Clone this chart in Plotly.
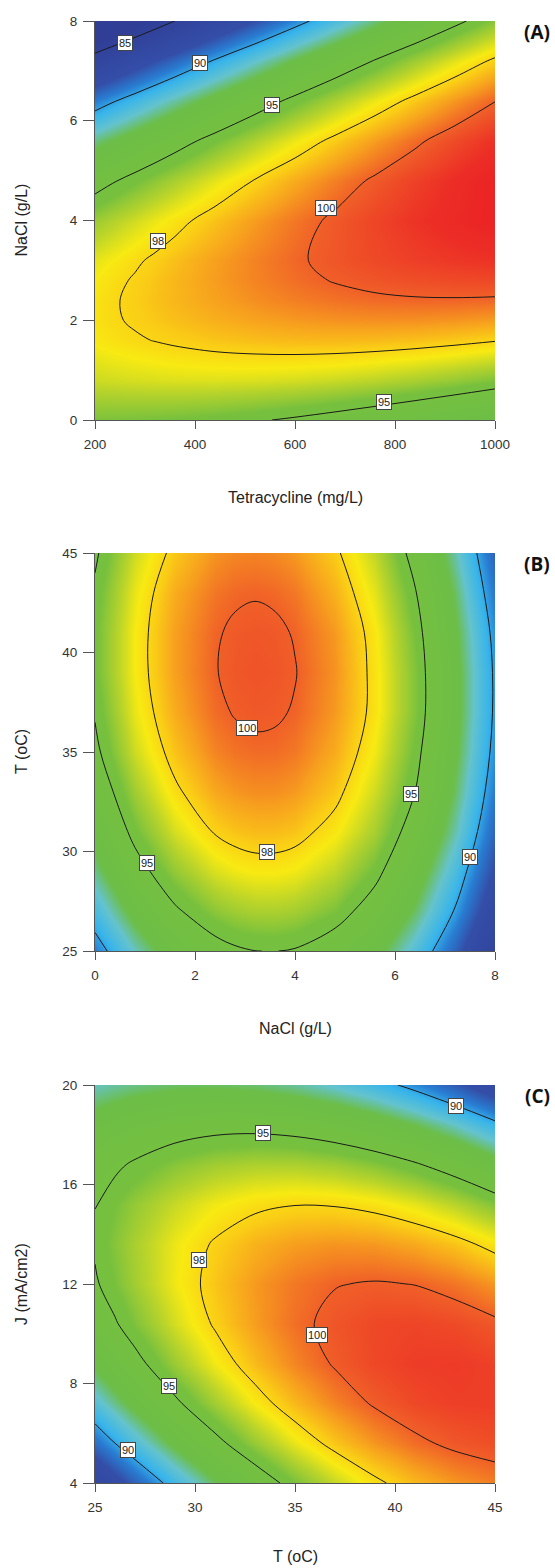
import plotly.graph_objects as go

# ---------------- data ----------------
# Panel A: removal (%) over Tetracycline (mg/L) x NaCl (g/L)
tetra_x = [200, 240, 280, 320, 360, 440, 520, 600, 680, 760, 840, 920, 1000]
nacl_y = [0, 0.8, 1.6, 2.0, 2.4, 2.8, 3.2, 4.0, 4.8, 5.6, 6.4, 7.2, 8.0]
z_A = [
    [95.58, 95.57, 95.55, 95.51, 95.46, 95.32, 95.11, 94.85, 94.53, 94.15, 93.71, 93.21, 92.66],
    [96.88, 96.96, 97.02, 97.07, 97.11, 97.13, 97.09, 97.00, 96.85, 96.64, 96.37, 96.05, 95.66],
    [97.59, 97.75, 97.90, 98.03, 98.15, 98.35, 98.48, 98.56, 98.58, 98.54, 98.44, 98.28, 98.07],
    [97.72, 97.92, 98.11, 98.29, 98.45, 98.73, 98.95, 99.11, 99.22, 99.26, 99.25, 99.18, 99.05],
    [97.70, 97.94, 98.18, 98.40, 98.60, 98.96, 99.27, 99.52, 99.71, 99.84, 99.91, 99.92, 99.88],
    [97.53, 97.82, 98.09, 98.35, 98.60, 99.05, 99.44, 99.77, 100.05, 100.26, 100.42, 100.52, 100.56],
    [97.21, 97.54, 97.86, 98.16, 98.45, 98.99, 99.46, 99.88, 100.24, 100.54, 100.78, 100.97, 101.09],
    [96.12, 96.54, 96.94, 97.33, 97.70, 98.41, 99.06, 99.64, 100.17, 100.64, 101.06, 101.41, 101.71],
    [94.43, 94.94, 95.43, 95.90, 96.36, 97.24, 98.05, 98.81, 99.51, 100.15, 100.73, 101.26, 101.72],
    [92.15, 92.74, 93.31, 93.87, 94.42, 95.46, 96.45, 97.38, 98.25, 99.06, 99.81, 100.51, 101.14],
    [89.27, 89.95, 90.60, 91.25, 91.88, 93.09, 94.25, 95.35, 96.39, 97.37, 98.29, 99.16, 99.97],
    [85.79, 86.55, 87.30, 88.03, 88.74, 90.13, 91.45, 92.72, 93.93, 95.08, 96.18, 97.21, 98.19],
    [81.72, 82.56, 83.39, 84.21, 85.01, 86.56, 88.06, 89.50, 90.88, 92.20, 93.46, 94.67, 95.82],
]
# Panel B: removal (%) over NaCl (g/L) x T (oC)
nacl_x = [0, 0.8, 1.6, 2.4, 2.8, 3.2, 3.6, 4.0, 4.8, 5.6, 6.4, 7.2, 8.0]
temp_y = [25, 27, 29, 31, 33, 35, 37, 39, 41, 43, 45]
z_B = [
    [89.3, 91.6, 93.4, 94.47, 94.81, 94.99, 95.02, 94.91, 94.2, 93.0, 91.1, 88.6, 85.5],
    [90.8, 93.1, 94.8, 95.88, 96.20, 96.37, 96.39, 96.27, 95.6, 94.3, 92.4, 89.9, 86.8],
    [92.1, 94.4, 96.0, 97.08, 97.39, 97.55, 97.56, 97.42, 96.7, 95.4, 93.4, 90.9, 87.8],
    [93.2, 95.4, 97.0, 98.08, 98.37, 98.52, 98.51, 98.36, 97.6, 96.3, 94.3, 91.8, 88.6],
    [94.0, 96.2, 97.8, 98.86, 99.14, 99.27, 99.26, 99.09, 98.3, 96.9, 95.0, 92.4, 89.2],
    [94.7, 96.9, 98.4, 99.43, 99.70, 99.82, 99.80, 99.62, 98.8, 97.4, 95.4, 92.8, 89.6],
    [95.1, 97.3, 98.8, 99.80, 100.06, 100.17, 100.12, 99.93, 99.1, 97.7, 95.7, 93.0, 89.8],
    [95.4, 97.5, 99.0, 99.96, 100.20, 100.30, 100.24, 100.04, 99.2, 97.7, 95.7, 93.0, 89.8],
    [95.4, 97.5, 99.0, 99.91, 100.14, 100.22, 100.16, 99.94, 99.1, 97.6, 95.5, 92.8, 89.6],
    [95.2, 97.3, 98.8, 99.65, 99.87, 99.94, 99.86, 99.63, 98.7, 97.2, 95.1, 92.4, 89.1],
    [94.8, 96.9, 98.3, 99.18, 99.39, 99.44, 99.35, 99.11, 98.2, 96.7, 94.5, 91.8, 88.5],
]
# Panel C: removal (%) over T (oC) x J (mA/cm2)
temp_x = [25, 26, 27, 29, 31, 33, 35, 37, 39, 41, 43, 45]
j_y = [4, 5.6, 7.2, 8.8, 10.4, 12.0, 13.6, 15.2, 16.8, 18.4, 20]
z_C = [
    [86.27, 87.43, 88.54, 90.61, 92.46, 94.10, 95.54, 96.76, 97.77, 98.57, 99.16, 99.54],
    [88.93, 90.00, 91.02, 92.91, 94.58, 96.05, 97.30, 98.34, 99.17, 99.80, 100.21, 100.41],
    [91.12, 92.10, 93.03, 94.74, 96.23, 97.52, 98.59, 99.45, 100.11, 100.55, 100.78, 100.80],
    [92.83, 93.73, 94.57, 96.10, 97.41, 98.52, 99.41, 100.09, 100.57, 100.83, 100.88, 100.73],
    [94.08, 94.88, 95.64, 96.98, 98.12, 99.04, 99.76, 100.26, 100.56, 100.64, 100.51, 100.18],
    [94.85, 95.56, 96.23, 97.39, 98.35, 99.10, 99.63, 99.96, 100.07, 99.98, 99.67, 99.15],
    [95.15, 95.77, 96.35, 97.34, 98.11, 98.68, 99.03, 99.18, 99.12, 98.84, 98.36, 97.66],
    [94.98, 95.51, 96.00, 96.80, 97.40, 97.79, 97.97, 97.93, 97.69, 97.23, 96.57, 95.69],
    [94.33, 94.78, 95.17, 95.80, 96.22, 96.43, 96.42, 96.21, 95.79, 95.15, 94.31, 93.25],
    [93.21, 93.57, 93.87, 94.32, 94.56, 94.59, 94.41, 94.02, 93.41, 92.60, 91.58, 90.34],
    [91.62, 91.89, 92.10, 92.37, 92.43, 92.28, 91.92, 91.35, 90.57, 89.57, 88.37, 86.96],
]
contour_levels = [85, 90, 95, 98, 100]

# contour-label positions (x, y, text)
labels_A = [(260, 7.56, '85'), (409, 7.16, '90'), (553, 6.31, '95'), (325, 3.59, '98'), (662, 4.26, '100'), (778, 0.37, '95')]
labels_B = [(3.03, 36.21, '100'), (3.44, 29.99, '98'), (1.04, 29.40, '95'), (6.31, 32.87, '95'), (7.50, 29.74, '90')]
labels_C = [(43.03, 19.16, '90'), (33.42, 18.06, '95'), (30.18, 12.97, '98'), (36.12, 9.93, '100'), (28.72, 7.88, '95'), (26.63, 5.34, '90')]

x_ticks = [[200, 400, 600, 800, 1000], [0, 2, 4, 6, 8], [25, 30, 35, 40, 45]]
y_ticks = [[0, 2, 4, 6, 8], [25, 30, 35, 40, 45], [4, 8, 12, 16, 20]]
x_titles = ['Tetracycline (mg/L)', 'NaCl (g/L)', 'T (oC)']
y_titles = ['NaCl (g/L)', 'T (oC)', 'J (mA/cm2)']
panel_tags = ['(A)', '(B)', '(C)']

# ---------------- styling ----------------
W, H = 555, 1568
FONT = 'Liberation Sans, Arial, sans-serif'
ZMIN, ZMAX = 84, 102
stop_z = [84, 88, 89.3, 90.3, 91.5, 92.6, 95.5, 96.6, 97.5, 98.2, 99.0, 100.0, 101.2, 102]
stop_c = ['rgb(48,62,150)', 'rgb(52,78,168)', 'rgb(40,125,210)', 'rgb(55,180,235)', 'rgb(100,195,205)',
          'rgb(108,190,72)', 'rgb(118,192,62)', 'rgb(185,212,42)', 'rgb(248,234,18)', 'rgb(250,205,22)',
          'rgb(247,160,30)', 'rgb(240,95,40)', 'rgb(236,45,38)', 'rgb(234,30,36)']
cs = [[(z - ZMIN) / (ZMAX - ZMIN), c] for z, c in zip(stop_z, stop_c)]

panels_px = [(21, 420), (553, 951), (1085, 1483)]
xtitle_px = [497, 1028, 1556]
xdom = [95 / W, 495 / W]

data = [(tetra_x, nacl_y, z_A, labels_A), (nacl_x, temp_y, z_B, labels_B), (temp_x, j_y, z_C, labels_C)]

fig = go.Figure()
ann = []
for k, (xs, ys, Z, labs) in enumerate(data):
    xa = 'x' if k == 0 else f'x{k+1}'
    ya = 'y' if k == 0 else f'y{k+1}'
    fig.add_trace(go.Heatmap(x=xs, y=ys, z=Z, zsmooth='best', colorscale=cs, zmin=ZMIN, zmax=ZMAX,
                             showscale=False, hoverinfo='skip', xaxis=xa, yaxis=ya))
    for lv in contour_levels:
        fig.add_trace(go.Contour(x=xs, y=ys, z=Z, contours=dict(start=lv, end=lv, size=1, coloring='none'),
                                 line=dict(color='#1a1a1a', width=1, smoothing=1.0), showscale=False,
                                 hoverinfo='skip', xaxis=xa, yaxis=ya))
    top, bot = panels_px[k]
    common = dict(ticks='outside', tickcolor='#555', showline=True, linecolor='#555', linewidth=1,
                  showgrid=False, zeroline=False, tickfont=dict(family=FONT, size=13.5, color='#333'),
                  automargin=False)
    axx = dict(domain=xdom, anchor=ya, range=[xs[0], xs[-1]], tickvals=x_ticks[k], ticklen=8,
               ticklabelstandoff=4, **common)
    axy = dict(domain=[1 - bot / H, 1 - top / H], anchor=xa, range=[ys[0], ys[-1]], tickvals=y_ticks[k],
               ticklen=11, ticklabelstandoff=3, **common)
    fig.update_layout(**{('xaxis' if k == 0 else f'xaxis{k+1}'): axx,
                         ('yaxis' if k == 0 else f'yaxis{k+1}'): axy})
    ann.append(dict(x=295 / W, y=1 - xtitle_px[k] / H, xref='paper', yref='paper', text=x_titles[k],
                    showarrow=False, font=dict(family=FONT, size=16, color='#222'),
                    xanchor='center', yanchor='middle'))
    ann.append(dict(x=21 / W, y=1 - (top + bot) / 2 / H, xref='paper', yref='paper', text=y_titles[k],
                    showarrow=False, textangle=-90, font=dict(family=FONT, size=16, color='#222'),
                    xanchor='center', yanchor='middle'))
    ann.append(dict(x=537 / W, y=1 - (top + 11) / H, xref='paper', yref='paper', text='<b>' + panel_tags[k] + '</b>',
                    showarrow=False, font=dict(family='Open Sans, sans-serif', size=19, color='#111'),
                    xanchor='center', yanchor='middle'))
    for lx, ly, lt in labs:
        ann.append(dict(x=lx, y=ly, xref=xa, yref=ya, text=lt, showarrow=False, bgcolor='white',
                        bordercolor='#444', borderwidth=1, borderpad=1,
                        font=dict(family=FONT, size=11, color='#222')))

fig.update_layout(width=W, height=H, margin=dict(l=0, r=0, t=0, b=0, pad=0, autoexpand=False),
                  paper_bgcolor='white', plot_bgcolor='white', showlegend=False, annotations=ann)
fig.write_html("out.html", config={'displayModeBar': False},
               post_script="document.body.style.margin='0px';document.body.style.overflow='hidden';")
